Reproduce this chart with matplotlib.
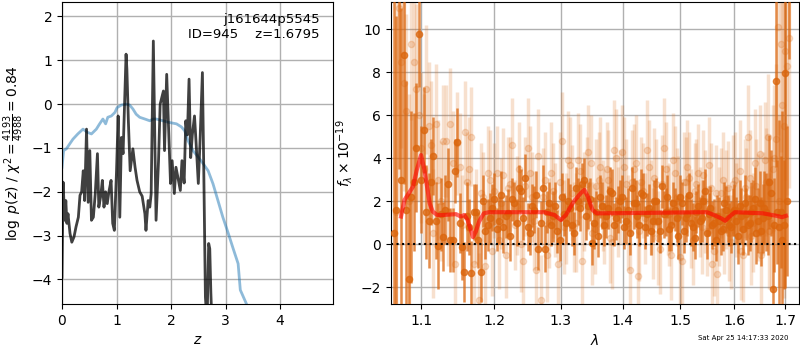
import numpy as np
import matplotlib
matplotlib.use("Agg")
import matplotlib.pyplot as plt

# ---------------- left panel data ----------------
pz_z = [0.0, 0.02, 0.05, 0.07, 0.09, 0.11, 0.147, 0.18, 0.22, 0.257, 0.30, 0.33, 0.36, 0.39,
        0.415, 0.45, 0.48, 0.51, 0.54, 0.575, 0.61, 0.65, 0.675, 0.71, 0.74, 0.77, 0.80, 0.83,
        0.86, 0.90, 0.93, 0.96, 1.0, 1.03, 1.06, 1.09, 1.12, 1.175, 1.19, 1.217, 1.25, 1.30,
        1.34, 1.376, 1.425, 1.47, 1.52, 1.54, 1.58, 1.61, 1.635, 1.675, 1.725, 1.77, 1.80,
        1.83, 1.86, 1.88, 1.92, 1.95, 1.99, 2.02, 2.06, 2.09, 2.13, 2.17, 2.20, 2.24, 2.27,
        2.30, 2.33, 2.36, 2.39, 2.43, 2.46, 2.50, 2.53, 2.575, 2.60, 2.63, 2.66, 2.69, 2.71,
        2.73, 2.75]
pz_logp = [-3.95, -1.78, -2.65, -2.2, -2.72, -2.5, -2.95, -3.15, -3.03, -2.8, -2.58, -2.08, -2.0, -1.52,
           -2.2, -0.57, -2.24, -1.06, -2.65, -2.58, -2.04, -1.13, -2.35, -2.1, -1.74, -2.35, -2.0, -2.27,
           -2.0, -1.74, -2.72, -2.88, -1.52, -0.27, -2.58, -0.76, -1.13, 1.14, 0.8, -0.38, -1.52, -1.02,
           -1.44, -1.74, -2.0, -2.1, -2.5, -2.88, -2.2, -2.35, -2.05, 1.44, -2.65, -1.3, 0.0,
           0.15, 0.30, -1.06, 0.68, -0.38, -1.81, -1.29, -2.04, -1.44, -1.7, -1.97, -1.29, -1.8, -0.38,
           -0.7, 0.57, -1.22, -0.7, -0.27, -0.9, -1.81, -0.9, 0.72, -1.5, -4.4, -5.0, -3.18, -3.3,
           -4.3, -5.0]

chi_z = [0.0, 0.03, 0.08, 0.14, 0.2, 0.29, 0.385, 0.46, 0.54, 0.63, 0.69, 0.75, 0.80, 0.84, 0.905,
         0.97, 1.01, 1.09, 1.18, 1.24, 1.30, 1.36, 1.425, 1.52, 1.61, 1.67, 1.73, 1.85, 1.975, 2.10,
         2.19, 2.25, 2.31, 2.40, 2.50, 2.59, 2.68, 2.77, 2.86, 2.95, 3.05, 3.14, 3.23, 3.27, 3.38, 3.45]
chi_val = [-1.44, -1.06, -1.02, -0.91, -0.8, -0.68, -0.57, -0.64, -0.68, -0.57, -0.45, -0.34, -0.45, -0.30, -0.27,
           -0.19, -0.08, -0.02, 0.0, -0.02, -0.11, -0.23, -0.30, -0.34, -0.38, -0.34, -0.34, -0.38, -0.42, -0.45,
           -0.52, -0.61, -0.83, -1.06, -1.21, -1.36, -1.52, -1.82, -2.2, -2.58, -2.95, -3.3, -3.64, -4.24, -4.55, -4.8]

# ---------------- right panel data ----------------
dark_lam = [1.064, 1.0705, 1.077, 1.0835, 1.090, 1.0965, 1.103, 1.1095, 1.116, 1.1225, 1.129, 1.1355,
            1.142, 1.1485, 1.155, 1.1615, 1.168, 1.1745, 1.181, 1.1875, 1.194, 1.2005, 1.207, 1.2135,
            1.220, 1.2265, 1.233, 1.2395, 1.246, 1.2525, 1.259, 1.2655, 1.272, 1.2785, 1.285, 1.2915,
            1.298, 1.3045, 1.311, 1.3175, 1.324, 1.3305, 1.337, 1.3435, 1.350, 1.3565, 1.363, 1.3695,
            1.376, 1.3825, 1.389, 1.3955, 1.402, 1.4085, 1.415, 1.4215, 1.428, 1.4345, 1.441, 1.4475,
            1.454, 1.4605, 1.467, 1.4735, 1.480, 1.4865, 1.493, 1.4995, 1.506, 1.5125, 1.519, 1.5255,
            1.532, 1.5385, 1.545, 1.5515, 1.558, 1.5645, 1.571, 1.5775, 1.584, 1.5905, 1.597, 1.6035,
            1.610, 1.6165, 1.623, 1.6295, 1.636, 1.6425, 1.649, 1.6555, 1.662, 1.6685, 1.675, 1.6815,
            1.688, 1.6945, 1.701, 1.7075]
dark_flux = [0.5, 12.5, 8.8, -1.6, 2.9, 9.8, 5.3, 1.1, 4.1, -0.1, 0.35, 2.8,
             0.2, 4.75, -0.15, 1.3, -1.35, 1.5, -1.3, 0.6, 1.2, 2.1, 1.1, 0.8,
             1.45, 2.1, 1.0, 2.5, 3.1, 0.5, 1.6, -0.2, 2.6, 1.5, 0.9, 1.8,
             0.2, 1.4, 2.0, 0.9, 2.6, 1.7, 3.0, 1.8, 0.05, 1.5, 2.2, 0.9,
             1.7, 2.4, 1.2, 2.0, 0.8, 1.6, 2.6, 1.9, 0.9, 2.3, 1.4, 0.6,
             2.0, 1.1, 2.7, 1.5, 0.7, 1.9, 1.2, 2.2, 0.6, 1.4, 1.0, 0.3,
             1.8, 1.2, 2.5, 1.4, 0.9, 0.2, 1.1, 0.7, 1.6, 0.9, 1.5, 1.1,
             1.8, 0.7, 1.4, 1.0, 1.7, 0.5, 1.9, 1.2, 1.5, 2.9, -2.1, 7.6,
             0.8, 0.2, 7.95, 12.0]
dark_err = [14, 9, 6, 4, 3.2, 2.5, 2.0, 2.2, 1.8, 2.0, 1.6, 1.7,
            1.5, 1.6, 1.5, 1.6, 1.5, 1.3, 1.4, 1.3, 1.2, 1.2, 1.1, 1.2,
            1.1, 1.0, 1.1, 1.0, 1.1, 1.0, 1.1, 1.0, 1.1, 1.0, 1.0, 1.1,
            1.0, 1.0, 1.1, 1.0, 1.0, 1.1, 1.0, 1.1, 1.0, 1.0, 1.0, 1.0,
            1.0, 1.1, 1.0, 1.0, 1.0, 1.0, 1.0, 1.1, 1.0, 1.0, 1.0, 1.1,
            1.0, 1.0, 1.0, 1.1, 1.0, 1.0, 1.1, 1.0, 1.0, 1.0, 1.1, 1.0,
            1.0, 1.1, 1.0, 1.0, 1.1, 1.0, 1.1, 1.0, 1.1, 1.0, 1.1, 1.1,
            1.2, 1.2, 1.2, 1.3, 1.3, 1.4, 1.5, 1.6, 1.8, 2.2, 3.0, 4.0,
            5.0, 6.0, 10.0, 3.4]

dark2_lam = [1.0672, 1.0737, 1.0802, 1.0867, 1.0932, 1.0997, 1.1062, 1.1127, 1.1192, 1.1257,
             1.1322, 1.1387, 1.1452, 1.1517, 1.1582, 1.1647, 1.1712, 1.1777, 1.1842, 1.1907,
             1.1972, 1.2037, 1.2102, 1.2167, 1.2232, 1.2297, 1.2362, 1.2427, 1.2492, 1.2557,
             1.2622, 1.2687, 1.2752, 1.2817, 1.2882, 1.2947, 1.3012, 1.3077, 1.3142, 1.3207,
             1.3272, 1.3337, 1.3402, 1.3467, 1.3532, 1.3597, 1.3662, 1.3727, 1.3792, 1.3857,
             1.3922, 1.3987, 1.4052, 1.4117, 1.4182, 1.4247, 1.4312, 1.4377, 1.4442, 1.4507,
             1.4572, 1.4637, 1.4702, 1.4767, 1.4832, 1.4897, 1.4962, 1.5027, 1.5092, 1.5157,
             1.5222, 1.5287, 1.5352, 1.5417, 1.5482, 1.5547, 1.5612, 1.5677, 1.5742, 1.5807,
             1.5872, 1.5937, 1.6002, 1.6067, 1.6132, 1.6197, 1.6262, 1.6327, 1.6392, 1.6457,
             1.6522, 1.6587, 1.6652, 1.6717, 1.6782, 1.6847, 1.6912, 1.6977, 1.7042]
dark2_flux = [1.6, 3.0, 1.6, 2.2, 4.5, 3.0, 1.5, 2.9, 1.1, 1.4,
              1.6, 0.2, 3.4, 1.0, -1.3, 0.8, 1.5, 0.2, 2.0, 0.9,
              1.7, 0.7, 2.3, 1.3, 0.4, 1.9, 2.6, 1.2, 0.8, 1.8,
              2.3, 1.0, -0.2, 1.9, 1.3, 0.6, 2.2, 1.0, 1.7, 0.5,
              2.0, 2.8, 1.3, 2.1, 1.0, 0.4, 1.8, 1.3, 2.5, 0.9,
              1.6, 2.2, 1.1, 0.5, 1.9, 1.3, 2.4, 0.8, 1.7, 1.1,
              2.0, 0.6, 1.4, 2.2, 0.9, 1.6, 0.4, 1.9, 1.2, 2.3,
              0.8, 1.5, 1.1, 2.0, 0.5, 1.7, 1.0, 1.3, 0.6, 1.9,
              1.2, 0.8, 1.6, 0.4, 1.3, 1.9, 0.9, 1.5, 2.1, 1.1,
              0.6, 1.7, 1.3, 2.4, 0.9, 1.5, 1.5, 0.9, 2.0]
dark2_err = [9, 8, 6, 4, 3, 2.5, 2.2, 2.0, 1.8, 1.7,
             1.6, 1.5, 1.5, 1.4, 1.4, 1.3, 1.3, 1.3, 1.2, 1.2,
             1.1, 1.0, 1.1, 1.0, 1.2, 1.0, 1.1, 1.0, 1.1, 1.0,
             1.1, 1.0, 1.1, 1.0, 1.2, 1.0, 1.1, 1.0, 1.1, 1.0,
             1.1, 1.0, 1.1, 1.0, 1.2, 1.0, 1.1, 1.0, 1.1, 1.0,
             1.1, 1.0, 1.1, 1.0, 1.2, 1.0, 1.1, 1.0, 1.1, 1.0,
             1.1, 1.0, 1.1, 1.0, 1.2, 1.0, 1.1, 1.0, 1.1, 1.0,
             1.1, 1.0, 1.1, 1.0, 1.2, 1.0, 1.1, 1.0, 1.1, 1.0,
             1.1, 1.2, 1.2, 1.3, 1.3, 1.3, 1.4, 1.4, 1.5, 1.5,
             1.6, 1.7, 1.8, 2.0, 2.2, 2.4, 2.6, 3.0, 3.5]

light_lam = [1.0675, 1.074, 1.0805, 1.087, 1.0935, 1.100, 1.1065, 1.113, 1.1195, 1.126, 1.1325, 1.139,
             1.1455, 1.152, 1.1585, 1.165, 1.1715, 1.178, 1.1845, 1.191, 1.1975, 1.204, 1.2105, 1.217,
             1.2235, 1.230, 1.2365, 1.243, 1.2495, 1.256, 1.2625, 1.269, 1.2755, 1.282, 1.2885, 1.295,
             1.3015, 1.308, 1.3145, 1.321, 1.3275, 1.334, 1.3405, 1.347, 1.3535, 1.360, 1.3665, 1.373,
             1.3795, 1.386, 1.3925, 1.399, 1.4055, 1.412, 1.4185, 1.425, 1.4315, 1.438, 1.4445, 1.451,
             1.4575, 1.464, 1.4705, 1.477, 1.4835, 1.490, 1.4965, 1.503, 1.5095, 1.516, 1.5225, 1.529,
             1.5355, 1.542, 1.5485, 1.555, 1.5615, 1.568, 1.5745, 1.581, 1.5875, 1.594, 1.6005, 1.607,
             1.6135, 1.620, 1.6265, 1.633, 1.6395, 1.646, 1.6525, 1.659, 1.6655, 1.672, 1.6785, 1.685,
             1.6915, 1.698, 1.7045]
light_flux = [1.5, 8.5, 6.2, 9.3, 7.2, 4.5, 7.2, 4.6, 5.6, 2.0, 4.8, 5.6,
              -0.9, 3.6, 5.2, 3.5, -0.9, -2.6, 2.2, 3.3, -0.3, 3.3, 1.9, -0.5,
              2.8, 0.9, 3.5, -0.8, 4.5, 2.2, -1.2, -2.6, 3.0, 1.0, 2.5, -0.9,
              4.8, 1.2, 3.7, 0.8, 3.9, -0.8, 2.8, 3.8, 0.7, 3.0, 1.8, 3.5,
              0.3, 4.4, 1.5, 4.3, 2.8, -1.2, 3.5, -1.5, 2.9, 1.2, 3.6, 0.5,
              2.8, -0.2, 4.5, 1.6, -0.5, 3.3, 2.0, -0.8, 2.9, 3.1, 0.2, 2.8,
              1.5, 3.2, 0.6, 2.6, -0.3, -1.4, 2.4, 0.7, 2.6, 0.1, 3.0, 1.8,
              -0.3, 2.6, 5.0, 0.4, 3.8, 1.7, -0.5, 3.9, 5.0, 1.0, 4.0, 10.1,
              9.3, 5.5, 8.3]
light_err = [12, 4, 4.5, 3.5, 4.0, 3.5, 3.0, 3.0, 2.8, 2.8, 2.6, 2.6,
             2.4, 2.5, 2.4, 2.4, 2.2, 2.2, 2.1, 2.2, 2.1, 2.2, 2.1, 2.0,
             2.2, 2.1, 2.2, 2.0, 2.3, 2.1, 2.1, 2.1, 2.2, 2.1, 2.2, 2.1,
             2.3, 2.1, 2.2, 2.1, 2.2, 2.1, 2.2, 2.2, 2.1, 2.2, 2.1, 2.2,
             2.1, 2.3, 2.1, 2.2, 2.1, 2.1, 2.1, 2.1, 2.1, 2.1, 2.2, 2.1,
             2.1, 2.1, 2.3, 2.1, 2.1, 2.2, 2.1, 2.1, 2.1, 2.1, 2.1, 2.1,
             2.1, 2.1, 2.1, 2.1, 2.1, 2.1, 2.1, 2.1, 2.2, 2.2, 2.2, 2.2,
             2.3, 2.3, 2.4, 2.3, 2.5, 2.5, 2.6, 2.7, 2.9, 3.1, 3.4, 5.0,
             5.0, 8.0, 6.0]

light2_lam = [1.0705, 1.077, 1.0835, 1.090, 1.0965, 1.103, 1.1095, 1.116, 1.1225, 1.129,
              1.1355, 1.142, 1.1485, 1.155, 1.1615, 1.168, 1.1745, 1.181, 1.1875, 1.194,
              1.2005, 1.207, 1.2135, 1.220, 1.2265, 1.233, 1.2395, 1.246, 1.2525, 1.259,
              1.2655, 1.272, 1.2785, 1.285, 1.2915, 1.298, 1.3045, 1.311, 1.3175, 1.324,
              1.3305, 1.337, 1.3435, 1.350, 1.3565, 1.363, 1.3695, 1.376, 1.3825, 1.389,
              1.3955, 1.402, 1.4085, 1.415, 1.4215, 1.428, 1.4345, 1.441, 1.4475, 1.454,
              1.4605, 1.467, 1.4735, 1.480, 1.4865, 1.493, 1.4995, 1.506, 1.5125, 1.519,
              1.5255, 1.532, 1.5385, 1.545, 1.5515, 1.558, 1.5645, 1.571, 1.5775, 1.584,
              1.5905, 1.597, 1.6035, 1.610, 1.6165, 1.623, 1.6295, 1.636, 1.6425, 1.649,
              1.6555, 1.662, 1.6685, 1.675, 1.6815, 1.688, 1.6945, 1.701, 1.7075]
light2_flux = [11.0, 7.5, 2.0, 8.5, 6.0, 3.5, 5.5, 0.5, 3.0, 4.8,
               1.5, 3.8, 4.7, 0.9, 2.9, 5.0, 1.3, 2.4, -1.0, 3.0,
               2.5, 0.2, 3.2, 2.6, 4.6, 1.8, 0.0, 2.7, 3.3, 1.1,
               4.1, 2.2, -0.5, 3.3, 1.6, 2.9, 0.8, 3.9, 2.4, 1.0,
               3.4, 2.0, 4.3, 0.5, 2.7, 3.6, 1.3, 3.0, 0.1, 4.0,
               2.2, 3.6, 1.0, 2.9, 3.8, 0.6, 2.5, 4.4, 1.7, 3.1,
               0.3, 2.8, 3.5, 1.4, 3.9, 2.2, -0.6, 2.9, 3.6, 1.2,
               2.5, 3.3, 0.8, 2.0, 3.7, -0.9, 2.4, 1.3, 3.0, 2.1,
               0.5, 2.8, 1.6, 3.4, -0.5, 2.2, 3.1, 1.0, 2.7, 4.2,
               1.9, 2.9, 0.6, 3.5, 4.9, 2.0, 6.5, 9.0, 9.6]
light2_err = [9, 5, 5, 4, 4, 3.5, 3, 3, 2.8, 2.6,
              2.5, 2.4, 2.4, 2.3, 2.3, 2.3, 2.2, 2.3, 2.2, 2.3,
              2.2, 2.3, 2.2, 2.4, 2.2, 2.3, 2.2, 2.3, 2.2, 2.3,
              2.2, 2.3, 2.2, 2.4, 2.2, 2.3, 2.2, 2.3, 2.2, 2.3,
              2.2, 2.3, 2.2, 2.4, 2.2, 2.3, 2.2, 2.3, 2.2, 2.3,
              2.2, 2.3, 2.2, 2.4, 2.2, 2.3, 2.2, 2.3, 2.2, 2.3,
              2.2, 2.3, 2.2, 2.4, 2.2, 2.3, 2.2, 2.3, 2.2, 2.3,
              2.2, 2.3, 2.2, 2.4, 2.2, 2.3, 2.2, 2.3, 2.2, 2.3,
              2.2, 2.3, 2.2, 2.4, 2.2, 2.3, 2.2, 2.3, 2.2, 2.3,
              2.4, 2.5, 2.7, 3.0, 3.5, 4.0, 5.0, 6.0, 7.0]

model_lam = [1.0735, 1.078, 1.089, 1.094, 1.0996, 1.104, 1.111, 1.115, 1.121, 1.1286, 1.1466, 1.153,
             1.158, 1.1625, 1.167, 1.170, 1.174, 1.1786, 1.1855, 1.1925, 1.202, 1.2745, 1.29, 1.30,
             1.3077, 1.320, 1.331, 1.337, 1.3425, 1.35, 1.357, 1.37, 1.5485, 1.5615, 1.5747, 1.5826,
             1.591, 1.601, 1.6555, 1.6834, 1.694, 1.702]
model_flux = [1.29, 2.06, 2.68, 3.46, 4.15, 3.46, 1.9, 1.52, 1.36, 1.36, 1.40, 1.29,
              1.36, 1.13, 0.67, 0.33, 0.59, 1.05, 1.44, 1.49, 1.49, 1.49, 1.36, 1.13,
              1.36, 1.98, 2.37, 2.53, 2.22, 1.6, 1.44, 1.44, 1.49, 1.36, 1.21, 1.09,
              1.29, 1.49, 1.44, 1.32, 1.26, 1.32]

x_ticks_right = [1.1, 1.2, 1.3, 1.4, 1.5, 1.6, 1.7]
label_name = "j161644p5545"
label_id = "ID=945    z=1.6795"
stamp = "Sat Apr 25 14:17:33 2020"

# ---------------- figure ----------------
fig = plt.figure(figsize=(8, 3.5), dpi=100)
ax1 = fig.add_axes([62/800, 46/350, 271/800, 302/350])
ax2 = fig.add_axes([391/800, 46/350, 408/800, 302/350])

ax1.plot(chi_z, chi_val, color='tab:blue', alpha=0.5, lw=2)
ax1.plot(pz_z, pz_logp, color='k', alpha=0.75, lw=2)
ax1.set_xlim(0, 4.97)
ax1.set_ylim(-4.56, 2.33)
ax1.set_xticks([0, 1, 2, 3, 4])
ax1.set_yticks([-4, -3, -2, -1, 0, 1, 2])
ax1.grid(True, color='#b0b0b0', lw=1)
ax1.set_axisbelow(True)
ax1.set_xlabel(r'$z$', fontsize=10)
ax1.set_ylabel(r'$\log\ p(z)$' + ' / ' + r'$\chi^2=\frac{4193}{4988}=0.84$', fontsize=10)
ax1.text(0.952, 0.965, label_name + "\n" + label_id, transform=ax1.transAxes,
         ha='right', va='top', fontsize=9.5)

col = (0.86, 0.40, 0.05)
for lam, fl, er in [(light_lam, light_flux, light_err), (light2_lam, light2_flux, light2_err)]:
    ax2.errorbar(lam, fl, yerr=er, fmt='o', color=col, alpha=0.2,
                 ms=4.5, elinewidth=2.5, capsize=0, zorder=2)
for lam, fl, er in [(dark_lam, dark_flux, dark_err), (dark2_lam, dark2_flux, dark2_err)]:
    ax2.errorbar(lam, fl, yerr=er, fmt='o', color=col, alpha=0.75,
                 ms=4.5, elinewidth=1.8, capsize=0, zorder=3)
ax2.plot(model_lam, model_flux, color='r', alpha=0.6, lw=3, zorder=5)
ax2.axhline(0, color='k', ls=':', lw=1.5, zorder=6)
ax2.set_xscale('log')
ax2.set_xlim(1.0607, 1.7288)
ax2.set_ylim(-2.78, 11.27)
ax2.set_xticks(x_ticks_right)
ax2.set_xticklabels([f"{v:.1f}" for v in x_ticks_right])
ax2.xaxis.set_minor_locator(matplotlib.ticker.NullLocator())
ax2.set_yticks([-2, 0, 2, 4, 6, 8, 10])
ax2.grid(True, color='#b0b0b0', lw=1)
ax2.set_axisbelow(True)
ax2.set_xlabel(r'$\lambda$', fontsize=10)
ax2.set_ylabel(r'$f_\lambda\times10^{-19}$', fontsize=10)

fig.text(788/800, 9/350, stamp, ha='right', va='bottom', fontsize=5)

fig.savefig('out.png', dpi=100)
